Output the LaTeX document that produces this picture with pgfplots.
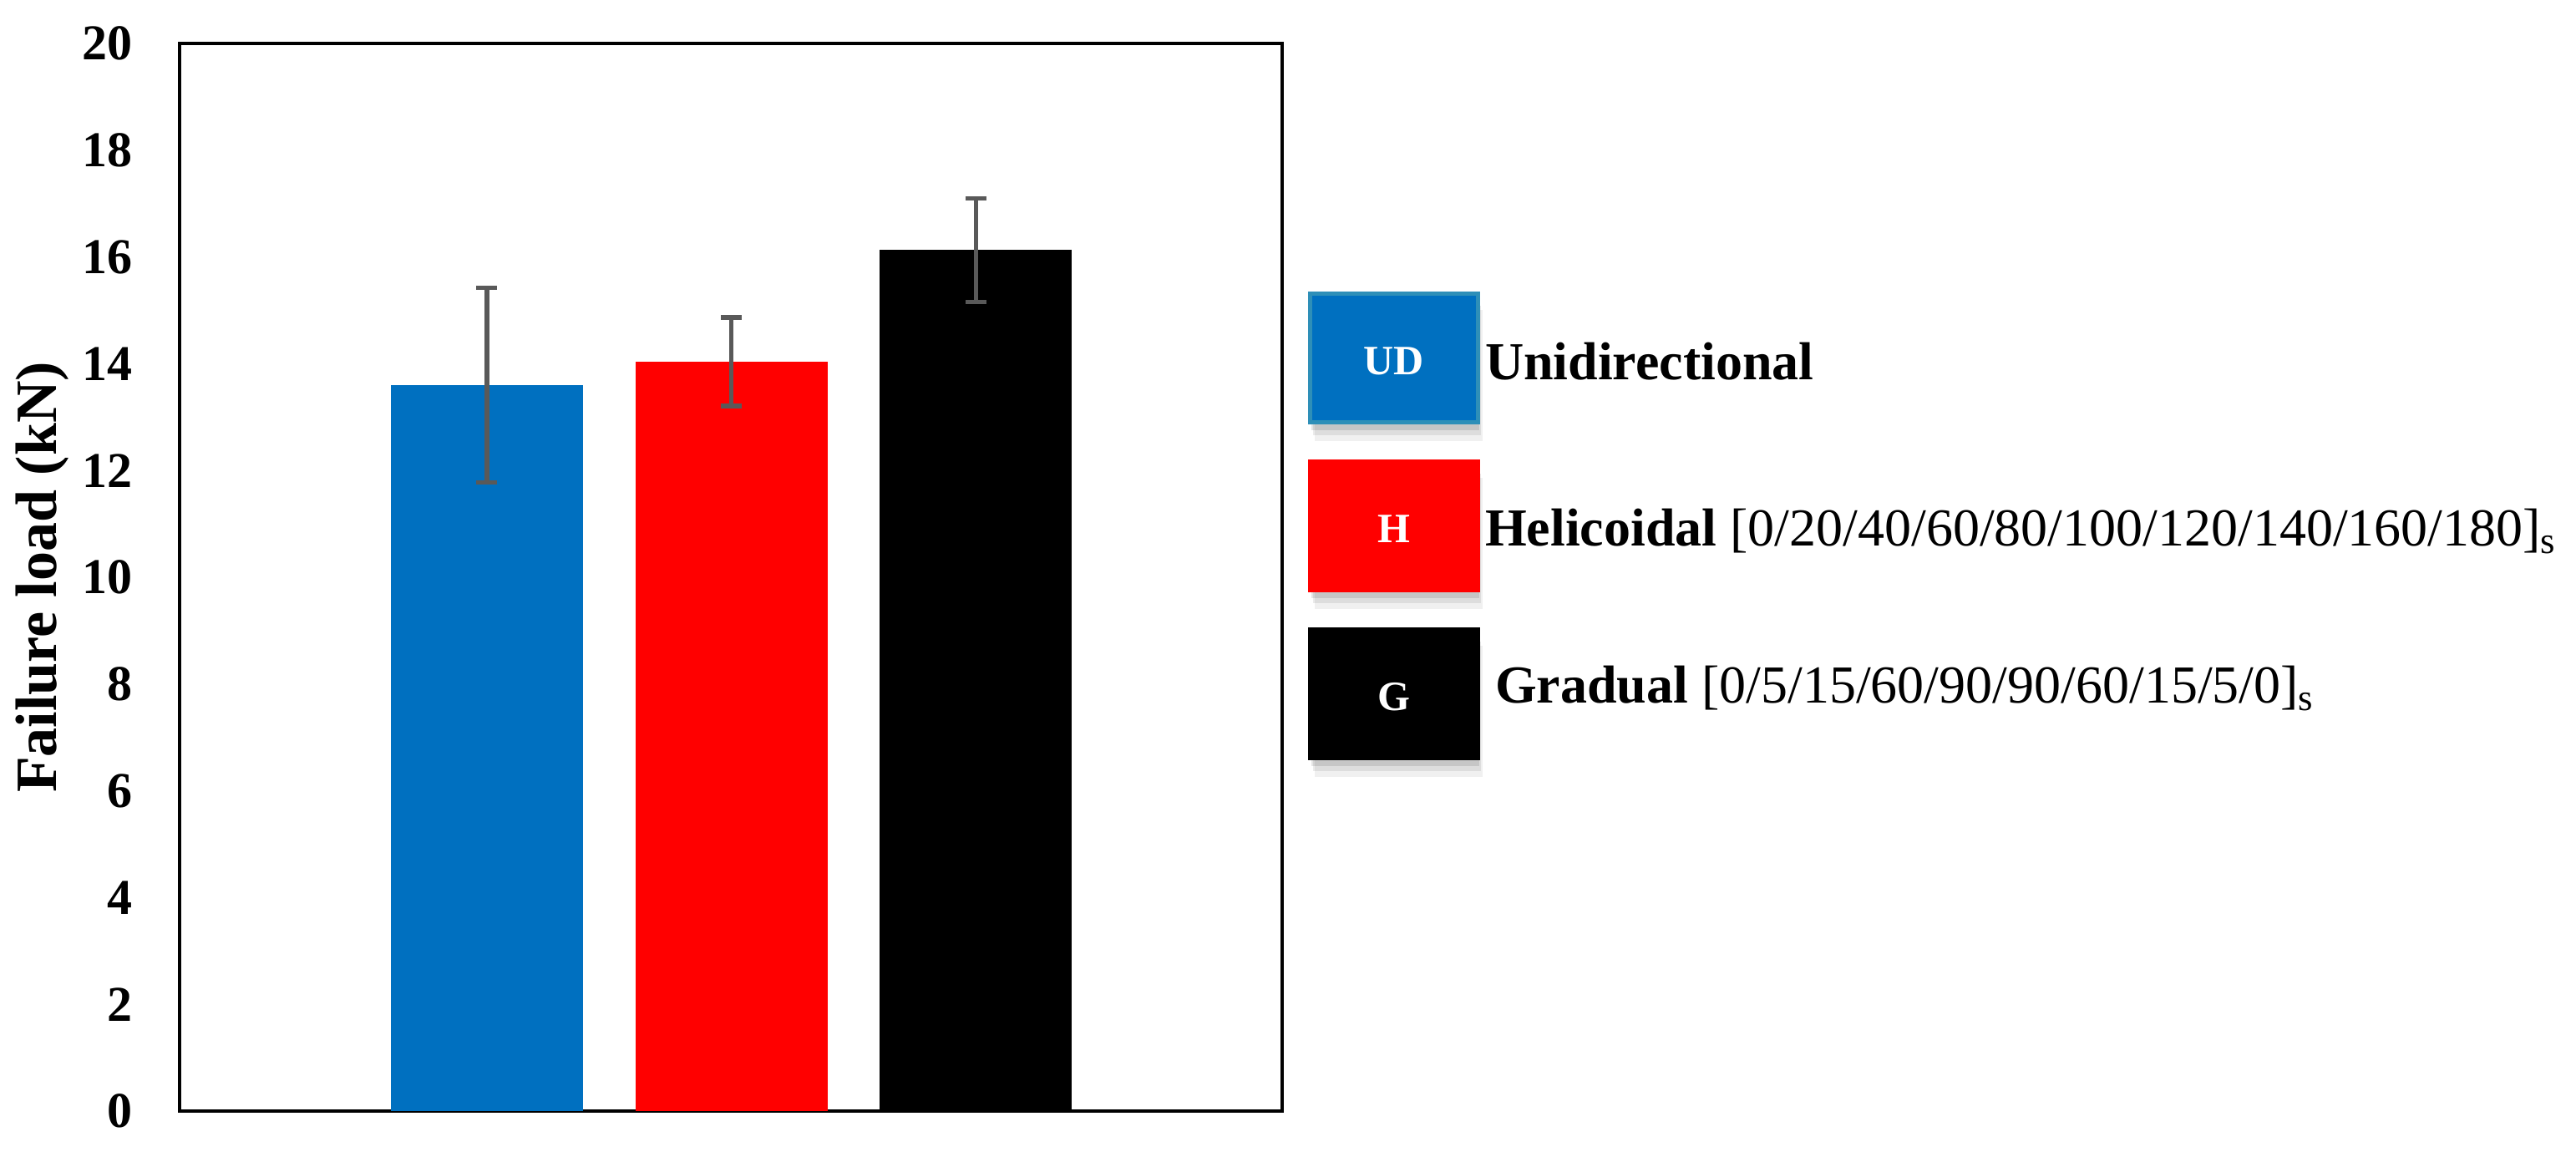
\documentclass[border=0pt]{standalone}
\usepackage{fontspec}
\setmainfont{Liberation Serif}
\usepackage{pgfplots}
\pgfplotsset{compat=1.18}

\definecolor{udblue}{HTML}{0070C0}
\definecolor{udedge}{HTML}{2E8FB8}
\definecolor{hred}{HTML}{FF0000}
\definecolor{errgray}{HTML}{595959}

\pgfplotsset{
  myerr/.style={
    error bars/.cd,
      y dir=both, y explicit,
      error bar style={line width=1.1pt, color=errgray},
      error mark options={rotate=90, mark size=2.5pt, line width=1.1pt, color=errgray},
    /pgfplots/.cd,
  },
}

% legend swatch: box with a label and a soft shadow (shadow kept out of the bbox)
% #4 moves the box against the text of its row
\newcommand{\swatch}[4]{%
  \begin{scope}[yshift=#4]
  \fill[black,opacity=0.06,overlay] (1.0pt,-16.4pt) rectangle (41.2pt,15.0pt);
  \fill[black,opacity=0.08,overlay] (0.6pt,-15.0pt) rectangle (40.8pt,16.0pt);
  \fill[black,opacity=0.10,overlay] (0.3pt,-13.8pt) rectangle (40.5pt,17.0pt);
  \draw[line width=1pt,draw=#2,fill=#1] (0,-12pt) rectangle (40.2pt,18.8pt);
  \node[text=white,inner sep=0pt,anchor=center,
        font=\bfseries\fontsize{10}{12}\selectfont]
    at (20.1pt,2pt) {#3};
  \end{scope}%
}

\begin{document}
\begin{tikzpicture}
\useasboundingbox (0,0) rectangle (616.8pt,276.8pt);
\begin{axis}[
  at={(43pt,10.8pt)},
  anchor=south west,
  scale only axis,
  width=264pt,
  height=255.6pt,
  axis line style={line width=0.9pt},
  xmin=-0.257, xmax=4.252,
  ymin=0, ymax=20,
  xtick=\empty,
  ytick={0,2,...,20},
  major tick length=0pt,
  /pgf/number format/assume math mode=true,
  yticklabel style={font=\bfseries\fontsize{12}{14}\selectfont,
                    inner sep=0pt, xshift=-11pt},
  ylabel={\textbf{Failure load (kN)}},
  every axis y label/.style={at={(axis description cs:-0.1242,0.5)}, rotate=90,
                             anchor=center,
                             font=\fontsize{14}{16}\selectfont},
  ybar,
  bar width=46pt,
  bar shift=0pt,
  legend cell align=left,
  legend style={at={(rel axis cs:1,0.7676)}, anchor=north west, xshift=6.2pt,
                draw=none, fill=none, inner sep=0pt, outer sep=0pt,
                row sep=8.4pt,
                nodes={inner sep=0pt},
                /tikz/every odd column/.style={column sep=1.2pt},
                font=\fontsize{12.8}{15}\selectfont},
]
  \addplot[fill=udblue, draw=none, myerr,
    legend image code/.code={\swatch{udblue}{udedge}{UD}{-2pt}}]
    coordinates {(1,13.60) +- (0,1.82)};
  \addlegendentry{\raisebox{0pt}[9pt][3pt]{\textbf{Unidirectional}}}

  \addplot[fill=hred, draw=none, myerr,
    legend image code/.code={\swatch{hred}{hred}{H}{-2.4pt}}]
    coordinates {(2,14.04) +- (0,0.83)};
  \addlegendentry{\raisebox{0pt}[9pt][3pt]{\textbf{Helicoidal} [0/20/40/60/80/100/120/140/160/180]\textsubscript{s}}}

  \addplot[fill=black, draw=none, myerr,
    legend image code/.code={\swatch{black}{black}{G}{-5pt}}]
    coordinates {(3,16.13) +- (0,0.97)};
  \addlegendentry{\raisebox{0pt}[9pt][7.4pt]{\hspace*{2.4pt}\textbf{Gradual} [0/5/15/60/90/90/60/15/5/0]\textsubscript{s}}}
\end{axis}
\end{tikzpicture}
\end{document}
